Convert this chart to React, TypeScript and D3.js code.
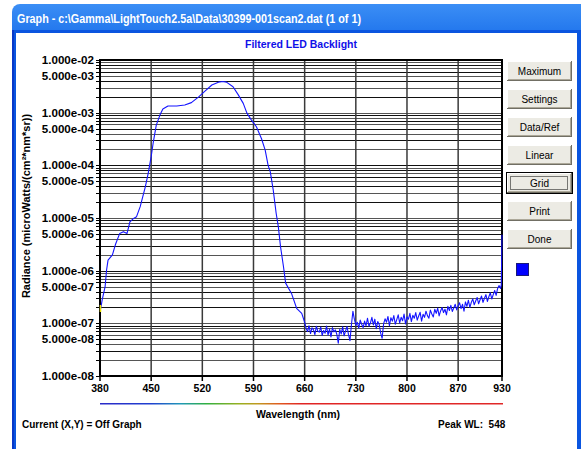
import React from 'react';
import * as d3 from 'd3';

// ---- data ----
// main emission band (nm, microWatts/(cm²·nm·sr))
const bandWl = [
  380, 381, 383, 387, 389, 391, 397, 401, 407, 412, 417, 421, 426, 430, 435, 442, 446, 450, 453, 457,
  462, 466, 473, 485, 496, 505, 515, 524, 533, 542, 548, 553, 562, 569, 576, 581, 587, 594, 601, 606,
  610, 613, 617, 621, 624, 627, 631, 634, 642, 649, 656,
];
const bandVal = [
  1.7e-7, 1.93e-7, 2.8e-7, 5.0e-7, 1.03e-6, 1.58e-6, 2.0e-6, 3.1e-6, 5.1e-6, 5.5e-6, 5.1e-6, 8.5e-6, 9.8e-6, 1.06e-5, 1.64e-5, 3.9e-5, 7.1e-5, 1.46e-4, 2.8e-4, 5.8e-4,
  9.0e-4, 1.17e-3, 1.34e-3, 1.34e-3, 1.40e-3, 1.55e-3, 2.0e-3, 2.6e-3, 3.35e-3, 3.8e-3, 3.9e-3, 3.8e-3, 3.1e-3, 2.2e-3, 1.5e-3, 9.8e-4, 7.3e-4, 5.4e-4, 3.2e-4, 1.94e-4,
  1.0e-4, 7.5e-5, 3.4e-5, 1.23e-5, 6.8e-6, 2.85e-6, 1.2e-6, 5.8e-7, 3.7e-7, 1.93e-7, 1.55e-7,
];
// noise floor tail
const tailWl = [
  660, 662, 664, 666, 668, 670, 672, 674, 676, 678, 680, 682, 684, 686, 688, 690, 692, 694, 696, 698,
  700, 702, 704, 706, 708, 710, 712, 714, 716, 718, 720, 722, 724, 726, 728, 730, 732, 734, 736, 738,
  740, 742, 744, 746, 748, 750, 752, 754, 756, 758, 760, 762, 764, 766, 768, 770, 772, 774, 776, 778,
  780, 782, 784, 786, 788, 790, 792, 794, 796, 798, 800, 802, 804, 806, 808, 810, 812, 814, 816, 818,
  820, 822, 824, 826, 828, 830, 832, 834, 836, 838, 840, 842, 844, 846, 848, 850, 852, 854, 856, 858,
  860, 862, 864, 866, 868, 870, 872, 874, 876, 878, 880, 882, 884, 886, 888, 890, 892, 894, 896, 898,
  900, 902, 904, 906, 908, 910, 912, 914, 916, 918, 920, 922, 924, 926, 928, 929, 930,
];
const tailVal = [
  1.05e-7, 8.0e-8, 7.0e-8, 9.0e-8, 6.4e-8, 8.2e-8, 7.6e-8, 6.1e-8, 8.8e-8, 7.1e-8, 6.8e-8, 8.5e-8, 5.9e-8, 7.3e-8, 6.5e-8, 8.9e-8, 6.0e-8, 7.8e-8, 5.5e-8, 8.3e-8,
  6.9e-8, 7.5e-8, 6.2e-8, 4.2e-8, 7.7e-8, 6.3e-8, 8.6e-8, 5.8e-8, 7.2e-8, 8.7e-8, 6.1e-8, 4.7e-8, 9.4e-8, 1.7e-7, 1.2e-7, 9.2e-8, 1.05e-7, 8.1e-8, 1.15e-7, 9.6e-8,
  8.3e-8, 1.1e-7, 9.0e-8, 1.25e-7, 8.8e-8, 1.02e-7, 1.3e-7, 9.3e-8, 1.2e-7, 7.9e-8, 1.08e-7, 9.5e-8, 6.5e-8, 5.2e-8, 9.8e-8, 1.22e-7, 1.05e-7, 1.35e-7, 9.0e-8, 1.28e-7,
  1.1e-7, 1.4e-7, 9.6e-8, 1.18e-7, 1.45e-7, 1.02e-7, 1.3e-7, 1.12e-7, 1.5e-7, 9.7e-8, 1.33e-7, 1.2e-7, 1.55e-7, 1.08e-7, 1.42e-7, 1.25e-7, 1.6e-7, 1.15e-7, 1.38e-7, 1.62e-7,
  1.1e-7, 1.48e-7, 1.3e-7, 1.7e-7, 1.4e-7, 1.25e-7, 1.78e-7, 1.5e-7, 1.32e-7, 1.85e-7, 1.55e-7, 1.95e-7, 1.38e-7, 1.72e-7, 2.0e-7, 1.6e-7, 1.85e-7, 1.45e-7, 2.1e-7, 1.75e-7,
  2.2e-7, 1.68e-7, 1.95e-7, 2.3e-7, 1.8e-7, 2.15e-7, 2.45e-7, 1.9e-7, 2.3e-7, 1.7e-7, 2.55e-7, 2.1e-7, 2.75e-7, 2.0e-7, 2.5e-7, 2.9e-7, 2.25e-7, 2.65e-7, 3.1e-7, 2.35e-7,
  2.8e-7, 3.3e-7, 2.5e-7, 3.0e-7, 3.5e-7, 2.6e-7, 3.2e-7, 3.8e-7, 2.9e-7, 3.5e-7, 4.2e-7, 3.4e-7, 4.6e-7, 5.2e-7, 4.6e-7, 5.3e-7, 4.8e-6,
];
const xTicks = [380, 450, 520, 590, 660, 730, 800, 870, 930];
const yLabels = ['1.000e-02', '5.000e-03', '1.000e-03', '5.000e-04', '1.000e-04', '5.000e-05', '1.000e-05', '5.000e-06', '1.000e-06', '5.000e-07', '1.000e-07', '5.000e-08', '1.000e-08'];
const yLabelValues = [1e-2, 5e-3, 1e-3, 5e-4, 1e-4, 5e-5, 1e-5, 5e-6, 1e-6, 5e-7, 1e-7, 5e-8, 1e-8];
const decades = [-8, -7, -6, -5, -4, -3];
const buttons = ['Maximum', 'Settings', 'Data/Ref', 'Linear', 'Grid', 'Print', 'Done'];
const spectrumStops = [
  { wl: 380, c: '#2a2ac8' }, { wl: 450, c: '#2040d0' }, { wl: 490, c: '#2098b8' }, { wl: 525, c: '#30b040' },
  { wl: 570, c: '#98b020' }, { wl: 595, c: '#c09a20' }, { wl: 625, c: '#e05a20' }, { wl: 655, c: '#e02424' }, { wl: 930, c: '#e02828' },
];

const W = 581, H = 449;
const FONT = '"Liberation Sans", Arial, sans-serif';

export default function App() {
  const x = d3.scaleLinear().domain([380, 930]).range([100, 502]);
  const y = d3.scaleLog().domain([1e-8, 1e-2]).range([376, 60]);
  const wls = bandWl.concat(tailWl);
  const vals = bandVal.concat(tailVal);
  const pts = wls.map((w, i) => [w, vals[i]] as [number, number]);
  const line = d3.line<[number, number]>().x(d => x(d[0])).y(d => y(d[1]));

  const minorVals: number[] = [];
  decades.forEach(e => { for (let k = 1; k <= 9; k++) minorVals.push(k * Math.pow(10, e)); });
  minorVals.push(1e-2);

  const btnTop = (i: number) => 61 + i * 28;

  return (
    <svg width={W} height={H} style={{ position: 'absolute', left: 0, top: 0, background: '#fff' }}>
      <defs>
        <linearGradient id="tb" x1="0" y1="0" x2="0" y2="1">
          <stop offset="0" stopColor="#3b8ef5" />
          <stop offset="0.12" stopColor="#0c62e6" />
          <stop offset="0.5" stopColor="#0058ee" />
          <stop offset="0.85" stopColor="#0456e6" />
          <stop offset="1" stopColor="#0342c8" />
        </linearGradient>
        <linearGradient id="spec" x1="0" y1="0" x2="1" y2="0">
          {spectrumStops.map((s, i) => (
            <stop key={i} offset={(s.wl - 380) / 550} stopColor={s.c} />
          ))}
        </linearGradient>
        <clipPath id="plotclip"><rect x={100} y={59} width={403} height={318} /></clipPath>
      </defs>
      {/* window frame */}
      <rect x={12} y={4} width={W - 12 + 10} height={H} rx={8} fill="url(#tb)" />
      <rect x={12} y={30} width={W - 12} height={H} fill="#0a55e0" />
      <rect x={12} y={30} width={2} height={H} fill="#0838c8" />
      <rect x={16} y={33} width={577 - 16} height={H} fill="#ffffff" />
      <text x={17} y={22.5} fill="#fff" fontFamily={FONT} fontSize={12.5} fontWeight="bold"
        textLength={344} lengthAdjust="spacingAndGlyphs">Graph - c:\Gamma\LightTouch2.5a\Data\30399-001scan2.dat  (1 of 1)</text>

      {/* chart title */}
      <text x={301} y={48} textAnchor="middle" fill="#1010e8" fontFamily={FONT} fontSize={10.5} fontWeight="bold">Filtered LED Backlight</text>

      {/* grid */}
      {minorVals.map((v, i) => (
        <line key={'h' + i} x1={100} x2={502} y1={Math.round(y(v)) + 0.5} y2={Math.round(y(v)) + 0.5}
          stroke={i % 2 ? '#555' : '#111'} strokeWidth={1} />
      ))}
      {xTicks.slice(1, -1).map((t, i) => (
        <line key={'v' + i} x1={x(t)} x2={x(t)} y1={60} y2={376} stroke="#3a3a3a" strokeWidth={1.5} />
      ))}
      {/* ticks */}
      {minorVals.map((v, i) => (
        <line key={'yt' + i} x1={96} x2={100} y1={Math.round(y(v)) + 0.5} y2={Math.round(y(v)) + 0.5} stroke="#000" strokeWidth={1} />
      ))}
      {xTicks.map((t, i) => (
        <line key={'xt' + i} x1={x(t)} x2={x(t)} y1={376} y2={381} stroke="#000" strokeWidth={1.5} />
      ))}
      {/* frame */}
      <rect x={100} y={60} width={402} height={316} fill="none" stroke="#000" strokeWidth={2} />

      {/* curve */}
      <g clipPath="url(#plotclip)">
        <path d={line(pts) || ''} fill="none" stroke="#1414ff" strokeWidth={1.1} strokeLinejoin="round" />
      </g>
      <line x1={100.5} x2={100.5} y1={305} y2={312} stroke="#e8e000" strokeWidth={1.5} />

      {/* y tick labels */}
      {yLabels.map((l, i) => (
        <text key={'yl' + i} x={94} y={y(yLabelValues[i]) + 4} textAnchor="end" fontFamily={FONT} fontSize={11.6} fontWeight="bold" fill="#000">{l}</text>
      ))}
      {/* x tick labels */}
      {xTicks.map((t, i) => (
        <text key={'xl' + i} x={x(t)} y={392} textAnchor="middle" fontFamily={FONT} fontSize={10.5} fontWeight="bold" fill="#000">{t}</text>
      ))}
      <rect x={100} y={403} width={403} height={1.5} fill="url(#spec)" />
      <text x={298} y={418} textAnchor="middle" fontFamily={FONT} fontSize={10.5} fontWeight="bold" fill="#000">Wavelength (nm)</text>
      <text x={22} y={428} fontFamily={FONT} fontSize={10} fontWeight="bold" fill="#000">Current (X,Y) = Off Graph</text>
      <text x={438} y={428} fontFamily={FONT} fontSize={10} fontWeight="bold" fill="#000" xmlSpace="preserve">Peak WL:  548</text>

      {/* y axis title */}
      <text transform="translate(30,206) rotate(-90)" textAnchor="middle" fontFamily={FONT} fontSize={11} fontWeight="bold" fill="#000">Radiance (microWatts/(cm²*nm*sr))</text>

      {/* buttons */}
      {buttons.map((b, i) => {
        const t = btnTop(i);
        const focused = b === 'Grid';
        return (
          <g key={b}>
            <rect x={507} y={t} width={65} height={20} fill="#ecebe4" />
            <line x1={507} x2={572} y1={t + 0.5} y2={t + 0.5} stroke="#fff" />
            <line x1={507.5} x2={507.5} y1={t} y2={t + 20} stroke="#fff" />
            <line x1={507} x2={572} y1={t + 19.5} y2={t + 19.5} stroke="#716f64" />
            <line x1={571.5} x2={571.5} y1={t} y2={t + 20} stroke="#716f64" />
            <line x1={508} x2={571} y1={t + 18.5} y2={t + 18.5} stroke="#aca899" />
            <line x1={570.5} x2={570.5} y1={t + 1} y2={t + 19} stroke="#aca899" />
            {focused && (
              <>
                <rect x={506.5} y={t - 0.5} width={66} height={21} fill="none" stroke="#000" />
                <rect x={510.5} y={t + 3.5} width={57} height={13} fill="none" stroke="#000" strokeDasharray="1,1" />
              </>
            )}
            <text x={539.5} y={t + 14} textAnchor="middle" fontFamily={FONT} fontSize={10} fill="#000">{b}</text>
          </g>
        );
      })}
      <rect x={516.5} y={263.5} width={12} height={12} fill="#0000ff" stroke="#1a1a7a" strokeWidth={1} />
    </svg>
  );
}
